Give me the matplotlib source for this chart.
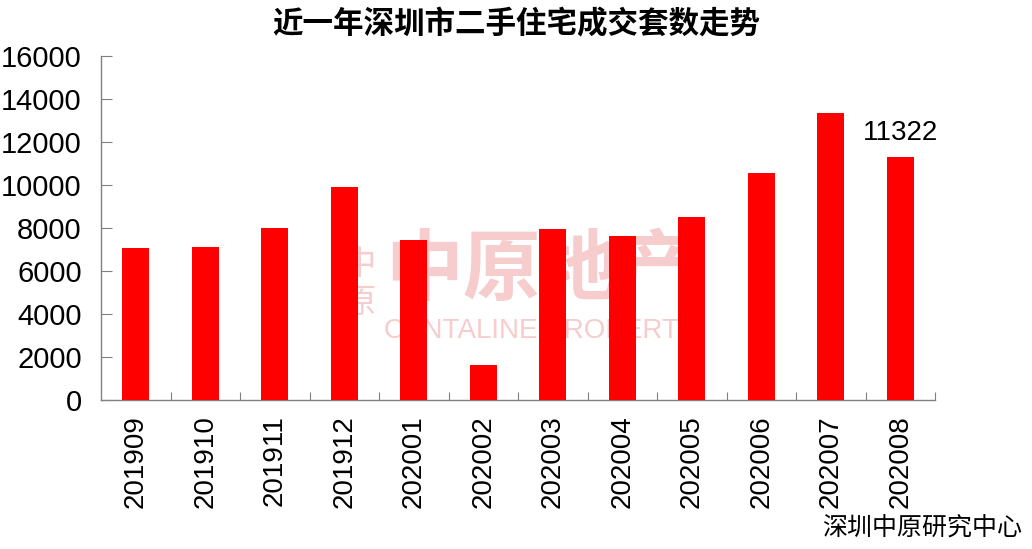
import matplotlib
matplotlib.use("Agg")
import matplotlib.pyplot as plt

plt.rcParams['font.family'] = ['Liberation Sans', 'Noto Sans CJK SC', 'DejaVu Sans']

months = ['201909', '201910', '201911', '201912', '202001', '202002',
          '202003', '202004', '202005', '202006', '202007', '202008']
deals = [7070, 7120, 8000, 9920, 7440, 1630, 7970, 7630, 8510, 10560, 13350, 11322]
label_idx = 11
title = '近一年深圳市二手住宅成交套数走势'
source = '深圳中原研究中心'

fig = plt.figure(figsize=(10.32, 5.49), dpi=100)
ax = fig.add_axes([0.098, 0.271, 0.808, 0.627])

x = list(range(len(months)))
ax.bar(x, deals, width=0.39, color='#ff0000', zorder=3)

# label the last month
ax.text(label_idx, deals[label_idx] + 500, f'{deals[label_idx]}',
        ha='center', va='bottom', fontsize=20, color='black', zorder=4)

ax.set_xlim(-0.5, len(months) - 0.5)
ax.set_ylim(0, 16000)
ax.set_yticks(range(0, 16001, 2000))
ax.tick_params(axis='y', direction='in', length=8, width=0.8, color='#808080',
               labelsize=21, pad=14)
ax.set_xticks(x)
ax.set_xticklabels(months, rotation=90)
ax.set_xticks([i + 0.5 for i in x], minor=True)
ax.tick_params(axis='x', which='major', length=0, labelsize=20, pad=11)
ax.tick_params(axis='x', which='minor', direction='in', length=6, width=0.8, color='#808080')

for s in ['top', 'right']:
    ax.spines[s].set_visible(False)
for s in ['left', 'bottom']:
    ax.spines[s].set_color('#808080')
    ax.spines[s].set_linewidth(1.0)

fig.text(0.5, 0.955, title, ha='center', va='center', fontsize=22, fontweight='bold',
         family=['Noto Sans CJK SC'])
fig.text(0.99, 0.038, source, ha='right', va='center', fontsize=18,
         family=['Noto Sans CJK SC'])

# watermark, behind the bars
wm = '#f6cccc'
ax.text(0.527, 0.375, '中原地产', transform=ax.transAxes, ha='center', va='center',
        fontsize=56, fontweight='bold', color=wm, family=['Noto Sans CJK SC'], zorder=1)
ax.text(0.527, 0.2, 'CENTALINE PROPERTY', transform=ax.transAxes, ha='center', va='center',
        fontsize=20, color=wm, zorder=1)
ax.text(0.31, 0.34, '中\n原', transform=ax.transAxes, ha='center', va='center',
        fontsize=24, linespacing=1.1, color=wm, family=['Noto Sans CJK SC'], zorder=1)

fig.savefig('out.png', dpi=100)
